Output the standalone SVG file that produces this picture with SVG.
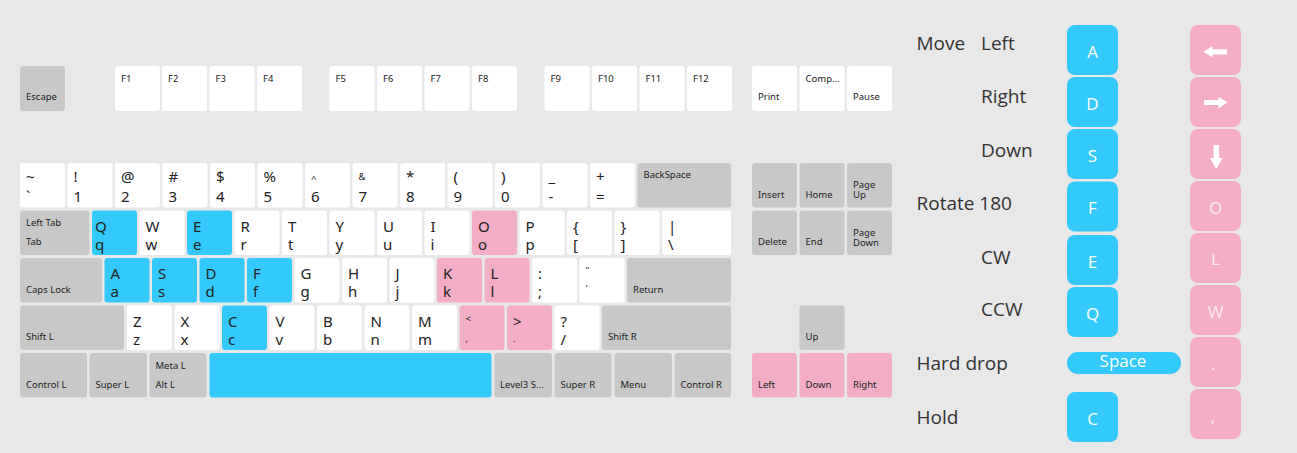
<svg xmlns="http://www.w3.org/2000/svg" width="1297" height="453" viewBox="0 0 1297 453">
<style>
rect{rx:3px;ry:3px}
.w{fill:#ffffff}.g{fill:#c8c8c8}.b{fill:#33c9fc}.p{fill:#f3adc6}
text{font-family:"Noto Sans","Open Sans",sans-serif;fill:#222}
.s{font-size:9.5px}
.l{font-size:15px}
.lg{font-family:"Open Sans","Noto Sans",sans-serif;font-size:19px;fill:#333}
.lb{fill:#33c9fc}.lp{fill:#f3adc6}
.lk{font-family:"Open Sans","Noto Sans",sans-serif;font-size:17px;fill:#fff;text-anchor:middle}
.lkp{font-family:"Open Sans","Noto Sans",sans-serif;font-size:17px;fill:#fff;fill-opacity:0.75;text-anchor:middle}
.arr{fill:#fff}
</style>
<rect x="0" y="0" width="1297" height="453" style="rx:0;ry:0" fill="#e8e8e8"/>
<g id="keyboard">
<!-- function row -->
<g id="key-escape"><rect class="g" x="20" y="66" width="45" height="45"/><text class="s" x="26" y="100">Escape</text></g>
<g id="key-f1"><rect class="w" x="115" y="66" width="45" height="45"/><text class="s" x="121" y="81.5">F1</text></g>
<g id="key-f2"><rect class="w" x="162" y="66" width="45" height="45"/><text class="s" x="168" y="81.5">F2</text></g>
<g id="key-f3"><rect class="w" x="209.5" y="66" width="45" height="45"/><text class="s" x="215.5" y="81.5">F3</text></g>
<g id="key-f4"><rect class="w" x="257" y="66" width="45" height="45"/><text class="s" x="263" y="81.5">F4</text></g>
<g id="key-f5"><rect class="w" x="329.5" y="66" width="45" height="45"/><text class="s" x="335.5" y="81.5">F5</text></g>
<g id="key-f6"><rect class="w" x="377" y="66" width="45" height="45"/><text class="s" x="383" y="81.5">F6</text></g>
<g id="key-f7"><rect class="w" x="424.5" y="66" width="45" height="45"/><text class="s" x="430.5" y="81.5">F7</text></g>
<g id="key-f8"><rect class="w" x="472" y="66" width="45" height="45"/><text class="s" x="478" y="81.5">F8</text></g>
<g id="key-f9"><rect class="w" x="544.5" y="66" width="45" height="45"/><text class="s" x="550.5" y="81.5">F9</text></g>
<g id="key-f10"><rect class="w" x="592" y="66" width="45" height="45"/><text class="s" x="598" y="81.5">F10</text></g>
<g id="key-f11"><rect class="w" x="639.5" y="66" width="45" height="45"/><text class="s" x="645.5" y="81.5">F11</text></g>
<g id="key-f12"><rect class="w" x="687" y="66" width="45" height="45"/><text class="s" x="693" y="81.5">F12</text></g>
<g id="key-print"><rect class="w" x="752" y="66" width="45" height="45"/><text class="s" x="758" y="100">Print</text></g>
<g id="key-comp"><rect class="w" x="799.5" y="66" width="45" height="45"/><text class="s" x="805.5" y="81.5">Comp...</text></g>
<g id="key-pause"><rect class="w" x="847" y="66" width="45" height="45"/><text class="s" x="853" y="100">Pause</text></g>
<!-- number row -->
<g id="key-tilde"><rect class="w" x="20" y="163" width="45" height="44.5"/><text class="l" x="26" y="182">~</text><text class="l" x="26" y="201.5">`</text></g>
<g id="key-1"><rect class="w" x="67.5" y="163" width="45" height="44.5"/><text class="l" x="73.5" y="182">!</text><text class="l" x="73.5" y="201.5">1</text></g>
<g id="key-2"><rect class="w" x="115" y="163" width="45" height="44.5"/><text class="l" x="121" y="182">@</text><text class="l" x="121" y="201.5">2</text></g>
<g id="key-3"><rect class="w" x="162.5" y="163" width="45" height="44.5"/><text class="l" x="168.5" y="182">#</text><text class="l" x="168.5" y="201.5">3</text></g>
<g id="key-4"><rect class="w" x="210" y="163" width="45" height="44.5"/><text class="l" x="216" y="182">$</text><text class="l" x="216" y="201.5">4</text></g>
<g id="key-5"><rect class="w" x="257.5" y="163" width="45" height="44.5"/><text class="l" x="263.5" y="182">%</text><text class="l" x="263.5" y="201.5">5</text></g>
<g id="key-6"><rect class="w" x="305" y="163" width="45" height="44.5"/><text class="s" x="311" y="182">^</text><text class="l" x="311" y="201.5">6</text></g>
<g id="key-7"><rect class="w" x="352.5" y="163" width="45" height="44.5"/><text class="s" x="358.5" y="180">&amp;</text><text class="l" x="358.5" y="201.5">7</text></g>
<g id="key-8"><rect class="w" x="400" y="163" width="45" height="44.5"/><text class="l" x="406" y="182">*</text><text class="l" x="406" y="201.5">8</text></g>
<g id="key-9"><rect class="w" x="447.5" y="163" width="45" height="44.5"/><text class="l" x="453.5" y="182">(</text><text class="l" x="453.5" y="201.5">9</text></g>
<g id="key-0"><rect class="w" x="495" y="163" width="45" height="44.5"/><text class="l" x="501" y="182">)</text><text class="l" x="501" y="201.5">0</text></g>
<g id="key-minus"><rect class="w" x="542.5" y="163" width="45" height="44.5"/><text class="l" x="548.5" y="182">_</text><text class="l" x="548.5" y="201.5">-</text></g>
<g id="key-equal"><rect class="w" x="590" y="163" width="45" height="44.5"/><text class="l" x="596" y="182">+</text><text class="l" x="596" y="201.5">=</text></g>
<g id="key-backspace"><rect class="g" x="637.5" y="163" width="93.5" height="44.5"/><text class="s" x="643.5" y="178">BackSpace</text></g>
<g id="key-insert"><rect class="g" x="752" y="163" width="45" height="44.5"/><text class="s" x="758" y="197.5">Insert</text></g>
<g id="key-home"><rect class="g" x="799.5" y="163" width="45" height="44.5"/><text class="s" x="805.5" y="197.5">Home</text></g>
<g id="key-pageup"><rect class="g" x="847" y="163" width="45" height="44.5"/><text class="s" x="853" y="187.5">Page</text><text class="s" x="853" y="198">Up</text></g>
<!-- tab row -->
<g id="key-tab"><rect class="g" x="20" y="210.5" width="69.5" height="44.5"/><text class="s" x="26" y="226">Left Tab</text><text class="s" x="26" y="245">Tab</text></g>
<g id="key-q"><rect class="b" x="92" y="210.5" width="45" height="44.5"/><text class="l" x="95" y="231.5">Q</text><text class="l" x="95" y="249.5">q</text></g>
<g id="key-w"><rect class="w" x="139.5" y="210.5" width="45" height="44.5"/><text class="l" x="145.5" y="231.5">W</text><text class="l" x="145.5" y="249.5">w</text></g>
<g id="key-e"><rect class="b" x="187" y="210.5" width="45" height="44.5"/><text class="l" x="193" y="231.5">E</text><text class="l" x="193" y="249.5">e</text></g>
<g id="key-r"><rect class="w" x="234.5" y="210.5" width="45" height="44.5"/><text class="l" x="240.5" y="231.5">R</text><text class="l" x="240.5" y="249.5">r</text></g>
<g id="key-t"><rect class="w" x="282" y="210.5" width="45" height="44.5"/><text class="l" x="288" y="231.5">T</text><text class="l" x="288" y="249.5">t</text></g>
<g id="key-y"><rect class="w" x="329.5" y="210.5" width="45" height="44.5"/><text class="l" x="335.5" y="231.5">Y</text><text class="l" x="335.5" y="249.5">y</text></g>
<g id="key-u"><rect class="w" x="377" y="210.5" width="45" height="44.5"/><text class="l" x="383" y="231.5">U</text><text class="l" x="383" y="249.5">u</text></g>
<g id="key-i"><rect class="w" x="424.5" y="210.5" width="45" height="44.5"/><text class="l" x="430.5" y="231.5">I</text><text class="l" x="430.5" y="249.5">i</text></g>
<g id="key-o"><rect class="p" x="472" y="210.5" width="45" height="44.5"/><text class="l" x="478" y="231.5">O</text><text class="l" x="478" y="249.5">o</text></g>
<g id="key-p"><rect class="w" x="519.5" y="210.5" width="45" height="44.5"/><text class="l" x="525.5" y="231.5">P</text><text class="l" x="525.5" y="249.5">p</text></g>
<g id="key-lbracket"><rect class="w" x="567" y="210.5" width="45" height="44.5"/><text class="l" x="573" y="231.5">{</text><text class="l" x="573" y="249.5">[</text></g>
<g id="key-rbracket"><rect class="w" x="614.5" y="210.5" width="45" height="44.5"/><text class="l" x="620.5" y="231.5">}</text><text class="l" x="620.5" y="249.5">]</text></g>
<g id="key-backslash"><rect class="w" x="662" y="210.5" width="69" height="44.5"/><text class="l" x="668" y="231.5">|</text><text class="l" x="668" y="249.5">\</text></g>
<g id="key-delete"><rect class="g" x="752" y="210.5" width="45" height="44.5"/><text class="s" x="758" y="245">Delete</text></g>
<g id="key-end"><rect class="g" x="799.5" y="210.5" width="45" height="44.5"/><text class="s" x="805.5" y="245">End</text></g>
<g id="key-pagedown"><rect class="g" x="847" y="210.5" width="45" height="44.5"/><text class="s" x="853" y="235.5">Page</text><text class="s" x="853" y="246">Down</text></g>
<!-- caps row -->
<g id="key-capslock"><rect class="g" x="20" y="258" width="82" height="44.5"/><text class="s" x="26" y="292.5">Caps Lock</text></g>
<g id="key-a"><rect class="b" x="104.5" y="258" width="45" height="44.5"/><text class="l" x="110.5" y="279">A</text><text class="l" x="110.5" y="297">a</text></g>
<g id="key-s"><rect class="b" x="152" y="258" width="45" height="44.5"/><text class="l" x="158" y="279">S</text><text class="l" x="158" y="297">s</text></g>
<g id="key-d"><rect class="b" x="199.5" y="258" width="45" height="44.5"/><text class="l" x="205.5" y="279">D</text><text class="l" x="205.5" y="297">d</text></g>
<g id="key-f"><rect class="b" x="247" y="258" width="45" height="44.5"/><text class="l" x="253" y="279">F</text><text class="l" x="253" y="297">f</text></g>
<g id="key-g"><rect class="w" x="294.5" y="258" width="45" height="44.5"/><text class="l" x="300.5" y="279">G</text><text class="l" x="300.5" y="297">g</text></g>
<g id="key-h"><rect class="w" x="342" y="258" width="45" height="44.5"/><text class="l" x="348" y="279">H</text><text class="l" x="348" y="297">h</text></g>
<g id="key-j"><rect class="w" x="389.5" y="258" width="45" height="44.5"/><text class="l" x="395.5" y="279">J</text><text class="l" x="395.5" y="297">j</text></g>
<g id="key-k"><rect class="p" x="437" y="258" width="45" height="44.5"/><text class="l" x="443" y="279">K</text><text class="l" x="443" y="297">k</text></g>
<g id="key-l"><rect class="p" x="484.5" y="258" width="45" height="44.5"/><text class="l" x="490.5" y="279">L</text><text class="l" x="490.5" y="297">l</text></g>
<g id="key-semicolon"><rect class="w" x="532" y="258" width="45" height="44.5"/><text class="l" x="538" y="279">:</text><text class="l" x="538" y="297">;</text></g>
<g id="key-quote"><rect class="w" x="579.5" y="258" width="45" height="44.5"/><text class="s" x="585.5" y="274">"</text><text class="s" x="585.5" y="292">'</text></g>
<g id="key-return"><rect class="g" x="627" y="258" width="104" height="44.5"/><text class="s" x="633" y="292.5">Return</text></g>
<!-- shift row -->
<g id="key-shiftl"><rect class="g" x="20" y="305.5" width="104" height="44.5"/><text class="s" x="26" y="340">Shift L</text></g>
<g id="key-z"><rect class="w" x="127" y="305.5" width="45" height="44.5"/><text class="l" x="133" y="326.5">Z</text><text class="l" x="133" y="344.5">z</text></g>
<g id="key-x"><rect class="w" x="174.5" y="305.5" width="45" height="44.5"/><text class="l" x="180.5" y="326.5">X</text><text class="l" x="180.5" y="344.5">x</text></g>
<g id="key-c"><rect class="b" x="222" y="305.5" width="45" height="44.5"/><text class="l" x="228" y="326.5">C</text><text class="l" x="228" y="344.5">c</text></g>
<g id="key-v"><rect class="w" x="269.5" y="305.5" width="45" height="44.5"/><text class="l" x="275.5" y="326.5">V</text><text class="l" x="275.5" y="344.5">v</text></g>
<g id="key-b"><rect class="w" x="317" y="305.5" width="45" height="44.5"/><text class="l" x="323" y="326.5">B</text><text class="l" x="323" y="344.5">b</text></g>
<g id="key-n"><rect class="w" x="364.5" y="305.5" width="45" height="44.5"/><text class="l" x="370.5" y="326.5">N</text><text class="l" x="370.5" y="344.5">n</text></g>
<g id="key-m"><rect class="w" x="412" y="305.5" width="45" height="44.5"/><text class="l" x="418" y="326.5">M</text><text class="l" x="418" y="344.5">m</text></g>
<g id="key-comma"><rect class="p" x="459.5" y="305.5" width="45" height="44.5"/><text class="s" x="465.5" y="322">&lt;</text><text class="s" x="465.5" y="342">,</text></g>
<g id="key-period"><rect class="p" x="507" y="305.5" width="45" height="44.5"/><text class="l" x="513" y="326.5">&gt;</text><text class="s" x="513" y="342">.</text></g>
<g id="key-slash"><rect class="w" x="554.5" y="305.5" width="45" height="44.5"/><text class="l" x="560.5" y="326.5">?</text><text class="l" x="560.5" y="344.5">/</text></g>
<g id="key-shiftr"><rect class="g" x="602" y="305.5" width="129" height="44.5"/><text class="s" x="608" y="340">Shift R</text></g>
<g id="key-up"><rect class="g" x="799.5" y="305.5" width="45" height="44.5"/><text class="s" x="805.5" y="340">Up</text></g>
<!-- bottom row -->
<g id="key-controll"><rect class="g" x="20" y="353" width="67" height="44.5"/><text class="s" x="26" y="387.5">Control L</text></g>
<g id="key-superl"><rect class="g" x="89.5" y="353" width="57.5" height="44.5"/><text class="s" x="95.5" y="387.5">Super L</text></g>
<g id="key-alt"><rect class="g" x="149.5" y="353" width="57" height="44.5"/><text class="s" x="155.5" y="368.5">Meta L</text><text class="s" x="155.5" y="387.5">Alt L</text></g>
<g id="key-space"><rect class="b" x="209.5" y="353" width="282" height="44.5"/></g>
<g id="key-level3"><rect class="g" x="494.5" y="353" width="57.5" height="44.5"/><text class="s" x="500" y="387.5">Level3 S...</text></g>
<g id="key-superr"><rect class="g" x="554.5" y="353" width="57" height="44.5"/><text class="s" x="560.5" y="387.5">Super R</text></g>
<g id="key-menu"><rect class="g" x="614.5" y="353" width="57.5" height="44.5"/><text class="s" x="620.5" y="387.5">Menu</text></g>
<g id="key-controlr"><rect class="g" x="674.5" y="353" width="56.5" height="44.5"/><text class="s" x="680.5" y="387.5">Control R</text></g>
<g id="key-left"><rect class="p" x="752" y="353" width="45" height="44.5"/><text class="s" x="758" y="387.5">Left</text></g>
<g id="key-down"><rect class="p" x="799.5" y="353" width="45" height="44.5"/><text class="s" x="805.5" y="387.5">Down</text></g>
<g id="key-right"><rect class="p" x="847" y="353" width="45" height="44.5"/><text class="s" x="853" y="387.5">Right</text></g>
</g>
<g id="connectors"></g>
<g id="legend">
<g id="legend-labels">
<text class="lg" x="916.5" y="49.5">Move</text>
<text class="lg" x="981" y="49.5">Left</text>
<text class="lg" x="981" y="102.5">Right</text>
<text class="lg" x="981" y="156.5">Down</text>
<text class="lg" x="916.5" y="209.5">Rotate 180</text>
<text class="lg" x="981" y="263.5">CW</text>
<text class="lg" x="981" y="315.5">CCW</text>
<text class="lg" x="916.5" y="370">Hard drop</text>
<text class="lg" x="916.5" y="424">Hold</text>
</g>
<g id="legend-blue">
<g id="lb-a"><rect class="lb" x="1067" y="25" width="51" height="50" style="rx:8px;ry:8px"/><text class="lk" x="1092.5" y="57.5">A</text></g>
<g id="lb-d"><rect class="lb" x="1067" y="77" width="51" height="50" style="rx:8px;ry:8px"/><text class="lk" x="1092.5" y="109.5">D</text></g>
<g id="lb-s"><rect class="lb" x="1067" y="129" width="51" height="50" style="rx:8px;ry:8px"/><text class="lk" x="1092.5" y="161.5">S</text></g>
<g id="lb-f"><rect class="lb" x="1067" y="181.5" width="51" height="50" style="rx:8px;ry:8px"/><text class="lk" x="1092.5" y="214">F</text></g>
<g id="lb-e"><rect class="lb" x="1067" y="235" width="51" height="50" style="rx:8px;ry:8px"/><text class="lk" x="1092.5" y="267.5">E</text></g>
<g id="lb-q"><rect class="lb" x="1067" y="287" width="51" height="50" style="rx:8px;ry:8px"/><text class="lk" x="1092.5" y="319.5">Q</text></g>
<g id="lb-space"><rect class="lb" x="1067" y="352" width="114" height="22" style="rx:11px;ry:11px"/><text class="lk" x="1123" y="367">Space</text></g>
<g id="lb-c"><rect class="lb" x="1067" y="392" width="51" height="50" style="rx:8px;ry:8px"/><text class="lk" x="1092.5" y="424.5">C</text></g>
</g>
<g id="legend-pink">
<g id="lp-left"><rect class="lp" x="1190" y="25" width="51" height="50" style="rx:8px;ry:8px"/><polygon class="arr" points="1203.5,51.8 1212.5,46 1212.5,49.2 1227,49.2 1227,54.4 1212.5,54.4 1212.5,57.6"/></g>
<g id="lp-right"><rect class="lp" x="1190" y="77" width="51" height="50" style="rx:8px;ry:8px"/><polygon class="arr" points="1227.5,102.5 1218.5,96.7 1218.5,99.9 1204,99.9 1204,105.1 1218.5,105.1 1218.5,108.3"/></g>
<g id="lp-down"><rect class="lp" x="1190" y="129" width="51" height="50" style="rx:8px;ry:8px"/><polygon class="arr" points="1216.3,169 1210,158 1213.5,158 1213.5,145 1219.1,145 1219.1,158 1222.6,158"/></g>
<g id="lp-o"><rect class="lp" x="1190" y="181" width="51" height="50" style="rx:8px;ry:8px"/><text class="lkp" x="1215.5" y="213.5">O</text></g>
<g id="lp-l"><rect class="lp" x="1190" y="233" width="51" height="50" style="rx:8px;ry:8px"/><text class="lkp" x="1215.5" y="265">L</text></g>
<g id="lp-w"><rect class="lp" x="1190" y="285" width="51" height="50" style="rx:8px;ry:8px"/><text class="lkp" x="1215.5" y="317.5">W</text></g>
<g id="lp-period"><rect class="lp" x="1190" y="337" width="51" height="50" style="rx:8px;ry:8px"/><text class="lkp" x="1213" y="369.5">.</text></g>
<g id="lp-comma"><rect class="lp" x="1190" y="389" width="51" height="50" style="rx:8px;ry:8px"/><text class="lkp" x="1213" y="421.5">,</text></g>
</g>
</g>
</svg>
